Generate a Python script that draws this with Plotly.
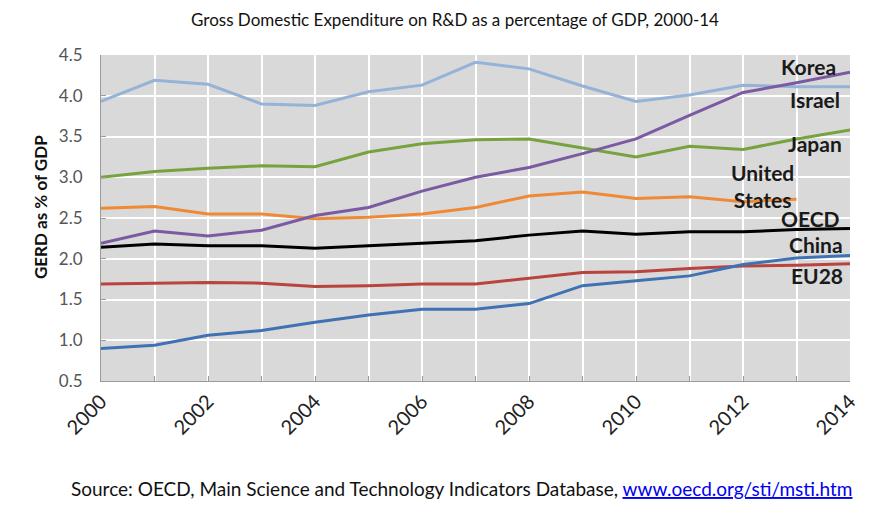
import plotly.graph_objects as go

years = list(range(2000, 2015))

israel = [3.93, 4.19, 4.14, 3.90, 3.88, 4.05, 4.13, 4.41, 4.33, 4.12, 3.93, 4.01, 4.13, 4.11, 4.11]
korea = [2.19, 2.34, 2.28, 2.35, 2.53, 2.63, 2.83, 3.00, 3.12, 3.29, 3.47, 3.76, 4.04, 4.16, 4.29]
japan = [3.00, 3.07, 3.11, 3.14, 3.13, 3.31, 3.41, 3.46, 3.47, 3.36, 3.25, 3.38, 3.34, 3.47, 3.58]
united_states = [2.62, 2.64, 2.55, 2.55, 2.49, 2.51, 2.55, 2.63, 2.77, 2.82, 2.74, 2.76, 2.70, 2.73, None]
oecd = [2.14, 2.18, 2.16, 2.16, 2.13, 2.16, 2.19, 2.22, 2.29, 2.34, 2.30, 2.33, 2.33, 2.36, 2.37]
eu28 = [1.69, 1.70, 1.71, 1.70, 1.66, 1.67, 1.69, 1.69, 1.76, 1.83, 1.84, 1.88, 1.91, 1.92, 1.94]
china = [0.90, 0.94, 1.06, 1.12, 1.22, 1.31, 1.38, 1.38, 1.45, 1.67, 1.73, 1.79, 1.93, 2.01, 2.04]

series = [
    ("Israel", israel, "#95B3D7"),
    ("Japan", japan, "#77A33E"),
    ("United States", united_states, "#EE8A35"),
    ("Korea", korea, "#7A5BA3"),
    ("OECD", oecd, "#000000"),
    ("EU28", eu28, "#B8433F"),
    ("China", china, "#3F72B3"),
]

# label text, anchor year, anchor value, xanchor, xshift
labels = [
    ("Korea", 2014, 4.36, "right", -12),
    ("Israel", 2014, 3.95, "right", -8),
    ("Japan", 2014, 3.41, "right", -6),
    ("United<br>States", 2012.37, 2.89, "center", 0),
    ("OECD", 2014, 2.50, "right", -8),
    ("China", 2014, 2.17, "right", -5),
    ("EU28", 2014, 1.80, "right", -5),
]

FONT = "Lato, 'Open Sans', sans-serif"
W, H = 875, 506
# page body has an 8px margin, so figure coords = screen coords - 8
ML, MR, MT, MB = 93, 33, 47, 133

fig = go.Figure()
for name, vals, col in series:
    fig.add_trace(go.Scatter(x=years, y=vals, mode="lines", name=name,
                             line=dict(color=col, width=3), connectgaps=False))

for text, xv, yv, xa, xs in labels:
    fig.add_annotation(x=xv, y=yv, text=f"<b>{text}</b>", showarrow=False,
                       xanchor=xa, yanchor="middle", xshift=xs,
                       font=dict(family=FONT, size=21, color="#1a1a1a"))

plot_w = W - ML - MR
plot_h = H - MT - MB

# source line
fig.add_annotation(
    xref="paper", yref="paper", x=(461 - 8 - ML) / plot_w, y=(H - MB - (488 - 8)) / plot_h,
    xanchor="center", yanchor="middle",
    text="Source: OECD, Main Science and Technology Indicators Database, "
         "<span style='color:#0000EE'><u>www.oecd.org/sti/msti.htm</u></span>",
    showarrow=False, font=dict(family=FONT, size=19, color="#111111"))

# y axis title
fig.add_annotation(
    xref="paper", yref="paper", x=(40 - 8 - ML) / plot_w, y=(H - MB - (207 - 8)) / plot_h,
    xanchor="center", yanchor="middle", textangle=-90,
    text="<b>GERD as % of GDP</b>", showarrow=False,
    font=dict(family=FONT, size=17, color="#111111"))

fig.update_layout(
    width=W, height=H,
    margin=dict(l=ML, r=MR, t=MT, b=MB),
    paper_bgcolor="white", plot_bgcolor="#D9D9D9",
    showlegend=False,
    title=dict(text="Gross Domestic Expenditure on R&D as a percentage of GDP, 2000-14",
               x=(455 - 8) / W, xanchor="center", y=1 - (20 - 8) / H, yanchor="middle",
               font=dict(family=FONT, size=17, color="#111111")),
    font=dict(family=FONT),
)

fig.update_xaxes(range=[2000, 2014], dtick=2, tick0=2000, tickangle=-45,
                 tickfont=dict(family=FONT, size=20, color="#222222"),
                 showgrid=True, gridcolor="white", gridwidth=1.5,
                 ticks="inside", ticklen=5, tickcolor="#9a9a9a",
                 minor=dict(dtick=1, showgrid=True, gridcolor="white", gridwidth=1.5,
                            ticks="inside", ticklen=5, tickcolor="#9a9a9a"),
                 showline=True, linecolor="#9a9a9a", linewidth=1, zeroline=False)

fig.update_yaxes(range=[0.5, 4.5], dtick=0.5, tick0=0.5, tickformat=".1f",
                 tickfont=dict(family=FONT, size=17, color="#555555"),
                 showgrid=True, gridcolor="white", gridwidth=1.5,
                 ticks="inside", ticklen=5, tickcolor="#9a9a9a",
                 ticklabelstandoff=14,
                 showline=True, linecolor="#9a9a9a", linewidth=1, zeroline=False)

fig.write_html("out.html")
